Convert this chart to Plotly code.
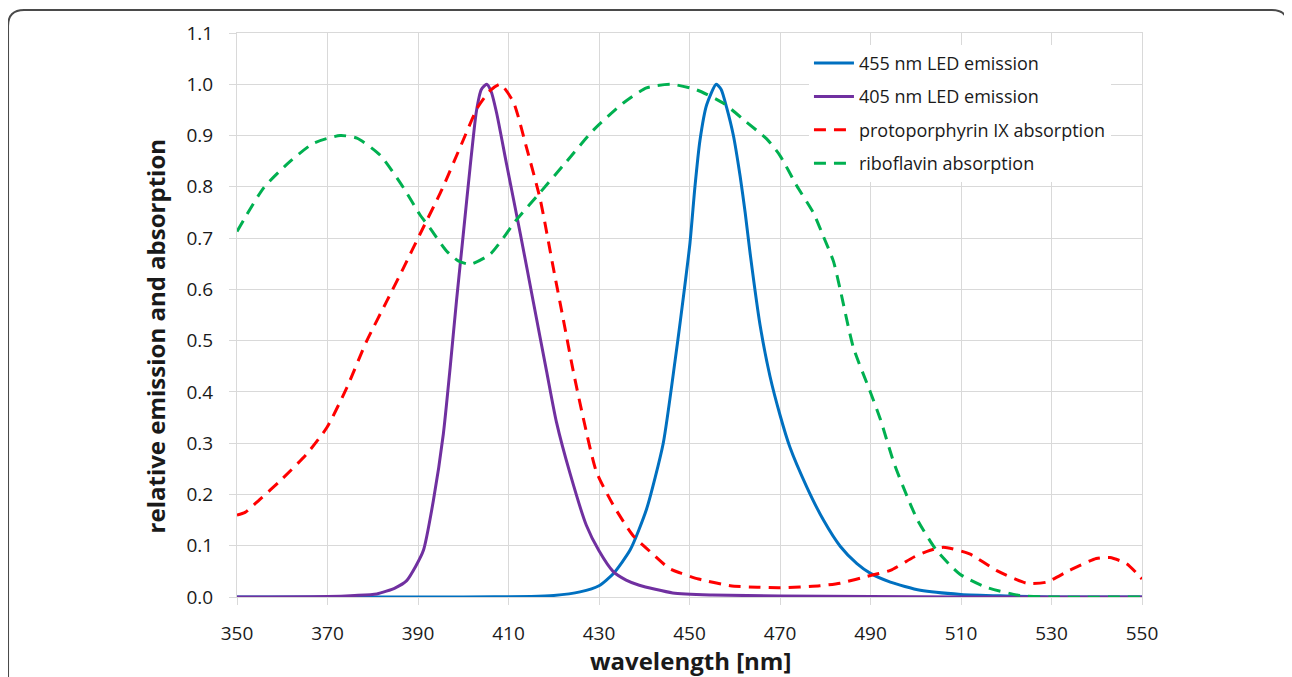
import plotly.graph_objects as go

# ---- data ----
blue_wl = [350, 400, 415, 420, 425.8, 430, 433.2, 436.9, 440.5, 444.2, 446.8, 448, 450.1, 451.2,
           452.3, 453.8, 455.9, 457, 458.2, 459.7, 461.2, 462.3, 463.4, 465.6, 467.8, 470, 472.2,
           475.9, 479.6, 483.3, 487, 490, 494.4, 501, 510, 520, 530, 550]
blue_val = [0, 0, 0.001, 0.003, 0.01, 0.022, 0.046, 0.092, 0.171, 0.30, 0.46, 0.54, 0.69, 0.80,
            0.89, 0.96, 1.0, 0.99, 0.955, 0.90, 0.82, 0.75, 0.67, 0.53, 0.43, 0.355, 0.292,
            0.215, 0.15, 0.099, 0.065, 0.046, 0.029, 0.013, 0.005, 0.002, 0.0, 0.0]

purple_wl = [350, 370, 376, 380.9, 385, 387.5, 389.5, 391.2, 393.4, 395.6, 397.1, 398.5, 400,
             401.5, 402.9, 404, 405.2, 406.2, 407.4, 409.6, 412.6, 415.5, 418.4, 420.6, 423.6,
             427.2, 430, 433.1, 436, 438.9, 446.3, 455, 470, 490, 510, 550]
purple_val = [0, 0.001, 0.003, 0.006, 0.018, 0.032, 0.06, 0.091, 0.188, 0.318, 0.447, 0.577, 0.707,
              0.837, 0.947, 0.99, 1.0, 0.985, 0.943, 0.843, 0.709, 0.575, 0.441, 0.341, 0.241,
              0.14, 0.09, 0.05, 0.033, 0.023, 0.008, 0.004, 0.002, 0.001, 0, 0]

red_wl = [350, 351.8, 355, 359.6, 365.4, 369.9, 374.3, 378.7, 383.1, 386.8, 390.4, 395.3, 399.7,
          403.2, 406, 408.2, 411.1, 414, 417, 419.9, 422.1, 424.3, 426.5, 429.4, 433.1, 437.5,
          440.5, 445.5, 447.9, 452, 459, 465, 470, 478.8, 483.3, 490, 494.4, 499.6, 502.5, 506.1,
          511.9, 517.8, 524.5, 528.9, 534, 539.9, 542.9, 546.6, 549.5, 550]
red_val = [0.16, 0.165, 0.19, 0.227, 0.279, 0.331, 0.409, 0.50, 0.577, 0.642, 0.707, 0.795, 0.885,
           0.955, 0.988, 1.0, 0.965, 0.876, 0.776, 0.642, 0.542, 0.441, 0.35, 0.245, 0.18, 0.12,
           0.095, 0.056, 0.047, 0.035, 0.022, 0.019, 0.018, 0.022, 0.027, 0.042, 0.052, 0.078, 0.089, 0.097,
           0.084, 0.052, 0.027, 0.029, 0.052, 0.075, 0.077, 0.065, 0.04, 0.035]

green_wl = [350, 355.9, 361.8, 366.9, 372.8, 376.5, 381.6, 386.8, 390.4, 392.6, 396.3, 399, 401.6,
            406, 411.8, 417, 422.8, 428.7, 435.3, 440.5, 446, 451.6, 457.5, 462.6, 467, 470,
            473.7, 477.4, 479.6, 481.8, 483.3, 486.2, 490, 492.2, 495.2, 498.1, 500.4, 504.6, 509.7,
            515.6, 523, 530, 550]
green_val = [0.713, 0.798, 0.85, 0.885, 0.9, 0.895, 0.862, 0.798, 0.746, 0.72, 0.675, 0.655, 0.649,
             0.669, 0.736, 0.789, 0.849, 0.91, 0.963, 0.993, 1.0, 0.989, 0.963, 0.926, 0.894, 0.861,
             0.802, 0.749, 0.703, 0.655, 0.60, 0.487, 0.399, 0.346, 0.261, 0.196, 0.15, 0.091, 0.045,
             0.019, 0.003, 0.0, 0.0]

series_names = ["455 nm LED emission", "405 nm LED emission",
                "protoporphyrin IX absorption", "riboflavin absorption"]
x_ticks = list(range(350, 551, 20))
y_ticks = [round(0.1 * i, 1) for i in range(12)]

# ---- figure ----
FONT = "Open Sans"
fig = go.Figure()
specs = [
    (blue_wl, blue_val, series_names[0], "#0070C0", "solid"),
    (purple_wl, purple_val, series_names[1], "#7030A0", "solid"),
    (red_wl, red_val, series_names[2], "#FF0000", "12px,8px"),
    (green_wl, green_val, series_names[3], "#00B050", "12px,8px"),
]
for wl, val, name, color, dash in specs:
    fig.add_trace(go.Scatter(
        x=wl, y=val, name=name, mode="lines", legendgroup=name,
        line=dict(color=color, width=3, dash=dash, shape="spline", smoothing=0.6),
    ))

grid = "#D9D9D9"
fig.update_layout(
    width=1284, height=669,
    margin=dict(l=229, r=150, t=22, b=80),
    paper_bgcolor="white", plot_bgcolor="white",
    font=dict(family=FONT, size=19, color="#1a1a1a"),
    showlegend=True,
    legend=dict(x=0.632, y=0.979, xanchor="left", yanchor="top",
                bgcolor="white", borderwidth=0, font=dict(size=18, color="#1a1a1a"),
                tracegroupgap=7, itemwidth=40),
    xaxis=dict(range=[350, 550], tickvals=x_ticks, ticktext=[str(v) for v in x_ticks],
               showgrid=True, gridcolor=grid, gridwidth=1, zeroline=False,
               showline=True, linecolor=grid, mirror=True,
               ticks="outside", ticklen=7, tickcolor=grid, ticklabelstandoff=12),
    yaxis=dict(range=[0, 1.1], tickvals=y_ticks, ticktext=[f"{v:.1f}" for v in y_ticks],
               showgrid=True, gridcolor=grid, gridwidth=1, zeroline=False,
               showline=True, linecolor=grid, mirror=True,
               ticks="outside", ticklen=7, tickcolor=grid, ticklabelstandoff=12),
)

fig.add_annotation(text="<b>wavelength [nm]</b>", xref="paper", yref="paper",
                   x=0.5006, y=-0.1129, xanchor="center", yanchor="middle",
                   showarrow=False, font=dict(size=24, family=FONT, color="#1a1a1a"))
fig.add_annotation(text="<b>relative emission and absorption</b>", xref="paper", yref="paper",
                   x=-0.0906, y=0.462, xanchor="center", yanchor="middle", textangle=-90,
                   showarrow=False, font=dict(size=24, family=FONT, color="#1a1a1a"))

# rounded frame around the figure (paper coordinates)
L, R, T, B = -0.2530, 1.1613, 1.0406, -0.20
rx, ry = 0.0177, 0.0282
path = (f"M {L},{B} L {L},{T-ry} Q {L},{T} {L+rx},{T} "
        f"L {R-rx},{T} Q {R},{T} {R},{T-ry} L {R},{B}")
fig.add_shape(type="path", path=path, xref="paper", yref="paper",
              line=dict(color="#4a4a4a", width=2), layer="above")

fig.write_html("out.html")
